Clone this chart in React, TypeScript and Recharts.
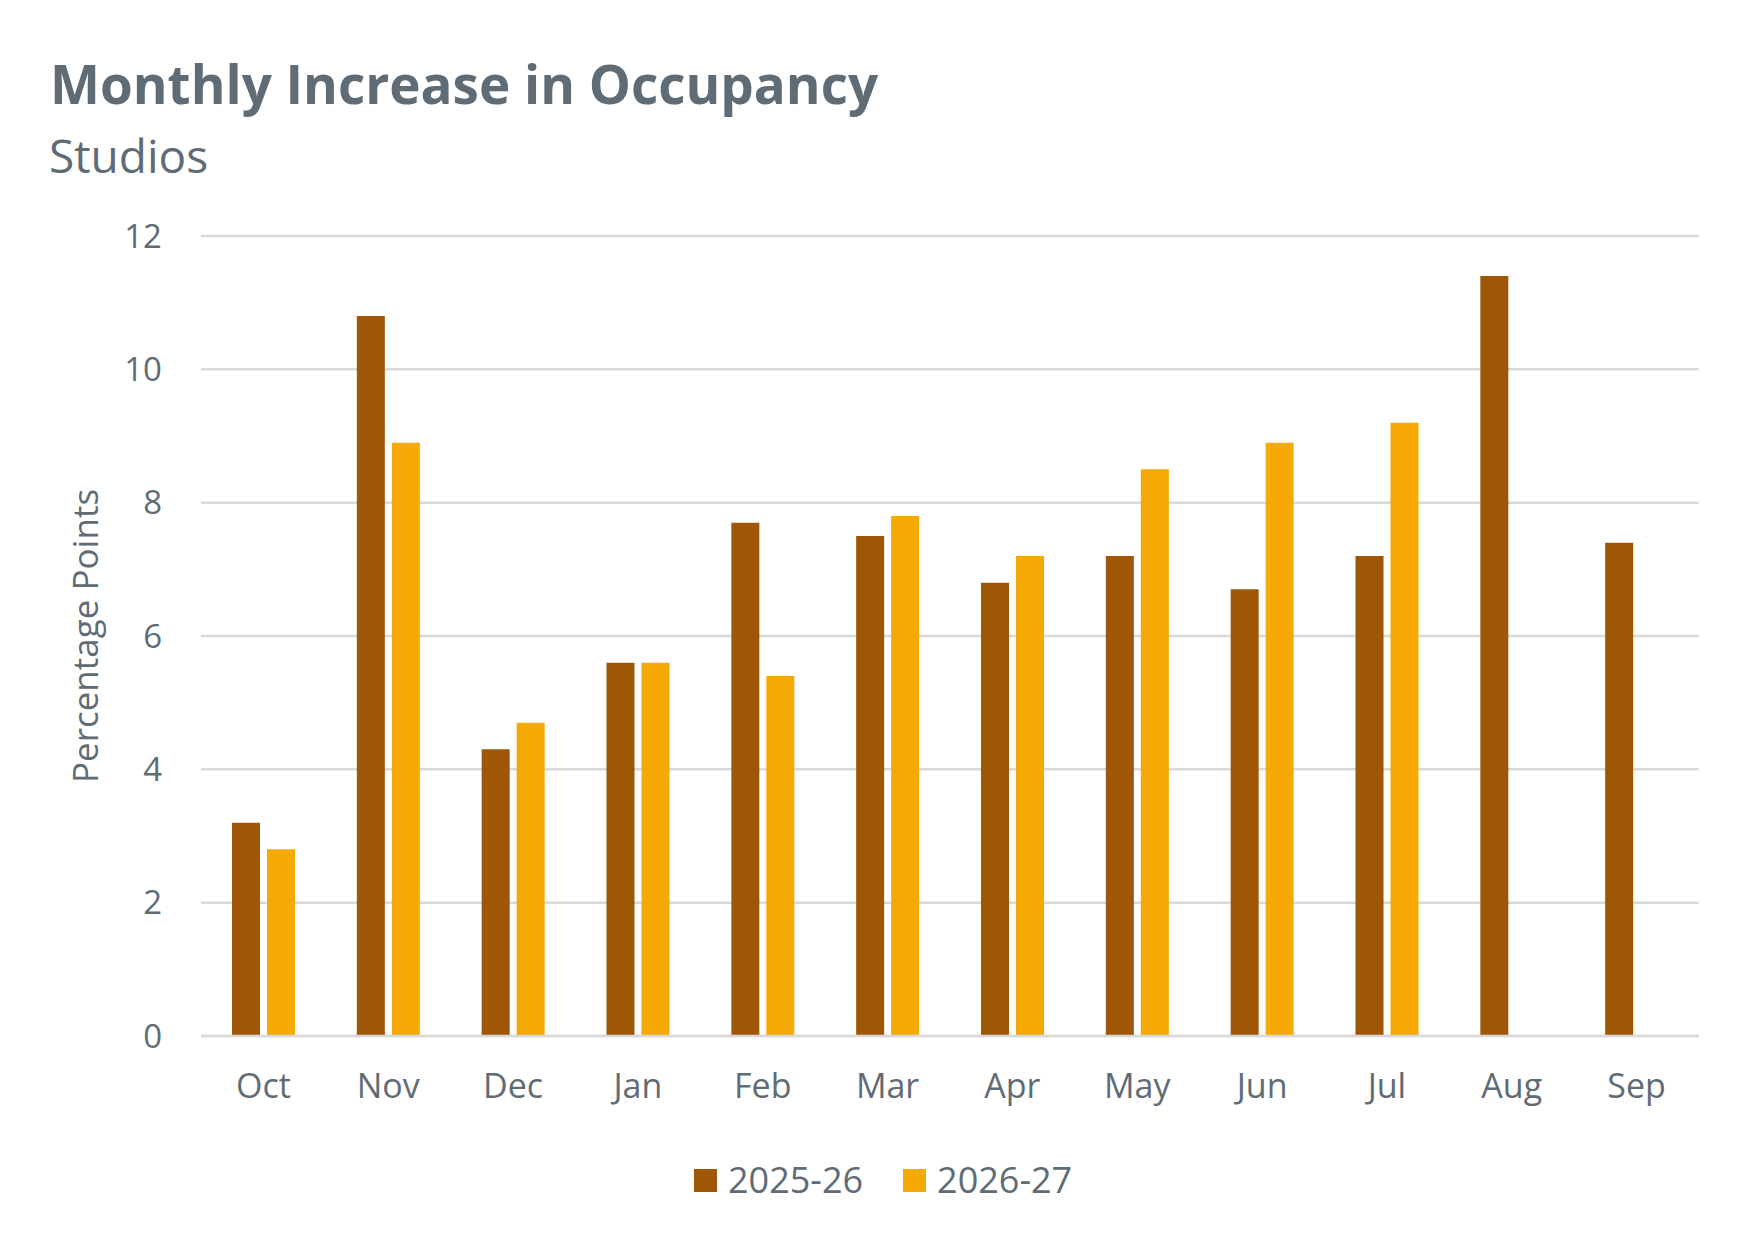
import { BarChart, Bar, XAxis, YAxis, CartesianGrid, Legend } from 'recharts'

const MONTHS = ['Oct', 'Nov', 'Dec', 'Jan', 'Feb', 'Mar', 'Apr', 'May', 'Jun', 'Jul', 'Aug', 'Sep']
const Y2025 = [3.2, 10.8, 4.3, 5.6, 7.7, 7.5, 6.8, 7.2, 6.7, 7.2, 11.4, 7.4]
const Y2026 = [2.8, 8.9, 4.7, 5.6, 5.4, 7.8, 7.2, 8.5, 8.9, 9.2, null, null]
const Y_TICKS = [0, 2, 4, 6, 8, 10, 12]

const SERIES = [
  { key: 'a', name: '2025-26', color: '#9E5706' },
  { key: 'b', name: '2026-27', color: '#F5A905' },
]

const data = MONTHS.map((m, i) => ({ month: m, a: Y2025[i], b: Y2026[i] }))

const FONT = '"Open Sans", "Noto Sans", sans-serif'
const TEXT = '#5F6B75'
const GRID = '#D9D9D9'

function LegendContent() {
  return (
    <div style={{ display: 'flex', alignItems: 'center', height: 40, fontFamily: FONT, fontSize: 36, color: TEXT }}>
      {SERIES.map((s, i) => (
        <div key={s.key} style={{ display: 'flex', alignItems: 'center', marginLeft: i ? 40 : 0 }}>
          <span style={{ width: 23, height: 23, background: s.color, display: 'inline-block', marginRight: 11 }} />
          <span style={{ lineHeight: '40px' }}>{s.name}</span>
        </div>
      ))}
    </div>
  )
}

function YLabel(props: any) {
  const vb = props.viewBox || {}
  const cy = vb.y + vb.height / 2
  return (
    <text x={84} y={cy} transform={`rotate(-90, 84, ${cy})`} textAnchor="middle" dominantBaseline="central"
      fill={TEXT} fontFamily={FONT} fontSize={35}>
      Percentage Points
    </text>
  )
}

export default function App() {
  return (
    <div style={{ position: 'absolute', left: 0, top: 0, width: 1750, height: 1247, background: '#fff' }}>
      <svg width={1750} height={200} style={{ position: 'absolute', left: 0, top: 0 }}>
        <text x={50} y={104} fill={TEXT} fontFamily={FONT} fontSize={53} fontWeight={700}>
          Monthly Increase in Occupancy
        </text>
        <text x={49} y={173} fill={TEXT} fontFamily={FONT} fontSize={46}>
          Studios
        </text>
      </svg>
      <BarChart width={1750} height={1247} data={data} barSize={28} barGap={7}
        margin={{ top: 236, right: 51, left: 0, bottom: 47 }}>
        <CartesianGrid vertical={false} stroke={GRID} strokeWidth={2.5} />
        <XAxis dataKey="month" height={124} axisLine={{ stroke: GRID, strokeWidth: 2.5 }} tickLine={false}
          tickSize={0} tickMargin={38} tick={{ fill: TEXT, fontFamily: FONT, fontSize: 34 }} />
        <YAxis width={201} domain={[0, 12]} ticks={Y_TICKS} axisLine={false} tickLine={false}
          tickSize={0} tickMargin={39} tick={{ fill: TEXT, fontFamily: FONT, fontSize: 33 }}
          label={{ content: YLabel }} />
        <Legend verticalAlign="bottom" height={40} content={<LegendContent />}
          wrapperStyle={{ left: 694, width: 420 }} />
        {SERIES.map((s) => (
          <Bar key={s.key} dataKey={s.key} name={s.name} fill={s.color} isAnimationActive={false} />
        ))}
      </BarChart>
    </div>
  )
}
